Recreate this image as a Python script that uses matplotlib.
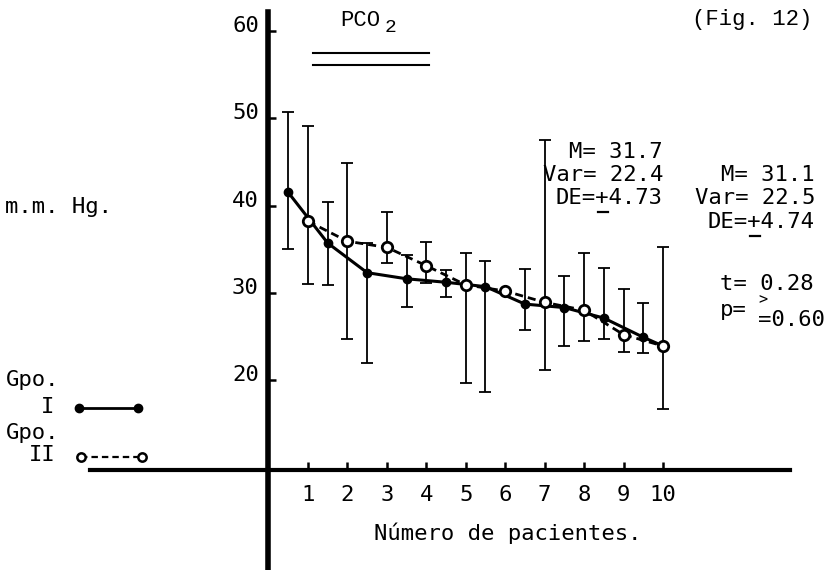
import numpy as np
import matplotlib
matplotlib.use("Agg")
import matplotlib.pyplot as plt
from matplotlib.lines import Line2D
from matplotlib.transforms import ScaledTranslation

# group I (filled, solid) - patients at half positions
x_g1 = [0.5, 1.5, 2.5, 3.5, 4.5, 5.5, 6.5, 7.5, 8.5, 9.5]
y_g1 = [41.5, 35.7, 32.3, 31.6, 31.2, 30.7, 28.7, 28.3, 27.1, 24.9]
lo_g1 = [35.0, 30.9, 21.9, 28.4, 29.5, 18.6, 25.7, 23.9, 24.7, 23.1]
hi_g1 = [50.7, 40.4, 35.7, 34.3, 32.6, 33.6, 32.7, 31.9, 32.8, 28.8]

# group II (open, dashed)
x_g2 = [1, 2, 3, 4, 5, 6, 7, 8, 9, 10]
y_g2 = [38.2, 35.9, 35.2, 33.1, 30.9, 30.2, 28.9, 28.0, 25.2, 23.9]
lo_g2 = [31.0, 24.7, 33.4, 31.1, 19.7, np.nan, 21.1, 24.5, 23.2, 16.7]
hi_g2 = [49.1, 44.9, 39.3, 35.8, 34.6, np.nan, 47.5, 34.6, 30.4, 35.2]

x_ticks = list(range(1, 11))
y_ticks = [20, 30, 40, 50, 60]

stats_g1 = ["M= 31.7", "Var= 22.4", "DE=+4.73"]
stats_g2 = ["M= 31.1", "Var= 22.5", "DE=+4.74"]

W, H = 837, 570
MONO = "DejaVu Sans Mono"
SERIF_MONO = "Liberation Mono"
FS = 16

# pixel <-> data calibration of the scanned figure
X0_PX, X_SCALE = 268.5, 39.45
Y20_PX, Y_SCALE = 380.0, 8.725


def fx(px):
    return px / W


def fy(py):
    return 1 - py / H


fig = plt.figure(figsize=(W / 100, H / 100), dpi=100)
ax = fig.add_axes([0, 0, 1, 1])
ax.set_facecolor("none")

xlim = (-X0_PX / X_SCALE, (W - X0_PX) / X_SCALE)
ylim = (20 - (H - Y20_PX) / Y_SCALE, 20 + Y20_PX / Y_SCALE)
ax.set_xlim(*xlim)
ax.set_ylim(*ylim)

x_axis_at = 20 - (470 - Y20_PX) / Y_SCALE

for s in ["top", "right"]:
    ax.spines[s].set_visible(False)
ax.spines["left"].set_position(("data", 0))
ax.spines["left"].set_bounds(ylim[0], 62.2)
ax.spines["left"].set_linewidth(4)
ax.spines["bottom"].set_position(("data", x_axis_at))
ax.spines["bottom"].set_bounds((90 - X0_PX) / X_SCALE, (790 - X0_PX) / X_SCALE)
ax.spines["bottom"].set_linewidth(3)

ax.set_xticks(x_ticks)
ax.set_xticklabels([str(t) for t in x_ticks], fontfamily=MONO, fontsize=FS)
ax.set_yticks(y_ticks)
ax.set_yticklabels([str(t) for t in y_ticks], fontfamily=MONO, fontsize=FS)
ax.tick_params(axis="x", direction="in", length=6, width=1.8, pad=11)
ax.tick_params(axis="y", direction="in", length=6, width=1.8, pad=7)
for lab in ax.get_yticklabels():
    lab.set_transform(lab.get_transform() + ScaledTranslation(0, 5 / 72, fig.dpi_scale_trans))

# error bars
y1 = np.array(y_g1)
ax.errorbar(x_g1, y1, yerr=[y1 - np.array(lo_g1), np.array(hi_g1) - y1],
            fmt="none", ecolor="black", elinewidth=1.3, capsize=4, capthick=1.3, zorder=2)
y2 = np.array(y_g2)
ok = ~np.isnan(np.array(lo_g2))
ax.errorbar(np.array(x_g2)[ok], y2[ok],
            yerr=[(y2 - np.array(lo_g2))[ok], (np.array(hi_g2) - y2)[ok]],
            fmt="none", ecolor="black", elinewidth=1.3, capsize=4, capthick=1.3, zorder=2)

# group lines
ax.plot(x_g2, y_g2, color="black", lw=2, linestyle=(0, (2.9, 1.8)), zorder=3)
ax.plot(x_g1 + [x_g2[-1]], y_g1 + [y_g2[-1]], color="black", lw=2.2, zorder=4)
ax.plot(x_g1, y_g1, "o", color="black", ms=6, zorder=5)
ax.plot(x_g2, y_g2, "o", mfc="white", mec="black", mew=2, ms=7.5, zorder=6)

fig.text(fx(508), fy(533), "Número de pacientes.", ha="center", va="center",
         fontfamily=MONO, fontsize=FS)

# title and bracket lines
fig.text(fx(340), fy(21), "PCO", ha="left", va="center", fontfamily=SERIF_MONO, fontsize=FS)
fig.text(fx(385), fy(28), "2", ha="left", va="center", fontfamily=SERIF_MONO, fontsize=FS - 2)
for py in (53, 65):
    fig.add_artist(Line2D([fx(313), fx(429)], [fy(py), fy(py)], color="black", lw=1.5))
fig.text(fx(692), fy(19), "(Fig. 12)", ha="left", va="center", fontfamily=SERIF_MONO, fontsize=FS)

fig.text(fx(5), fy(207), "m.m. Hg.", ha="left", va="center", fontfamily=MONO, fontsize=FS)

# statistics blocks (monospace, right aligned); "+" underlined to read as ±
pitch = 0.602 * FS * 100 / 72


def stats_block(lines, right_px, rows):
    for txt, py in zip(lines, rows):
        left = right_px - len(txt) * pitch
        fig.text(fx(left), fy(py), txt, ha="left", va="center", fontfamily=MONO, fontsize=FS)
        if "+" in txt:
            cx = left + (txt.index("+") + 0.5) * pitch
            fig.add_artist(Line2D([fx(cx - 5), fx(cx + 5)], [fy(py + 14), fy(py + 14)],
                                  color="black", lw=1.6))


stats_block(stats_g1, 663, (152, 175, 198))
stats_block(stats_g2, 815, (175, 198, 222))

fig.text(fx(720), fy(284), "t= 0.28", ha="left", va="center", fontfamily=MONO, fontsize=FS)
fig.text(fx(720), fy(310), "p=", ha="left", va="center", fontfamily=MONO, fontsize=FS)
fig.text(fx(758), fy(300), ">", ha="left", va="center", fontfamily=MONO, fontsize=FS - 5)
fig.text(fx(758), fy(320), "=0.60", ha="left", va="center", fontfamily=MONO, fontsize=FS)

# hand-drawn key
fig.text(fx(6), fy(380), "Gpo.", ha="left", va="center", fontfamily=MONO, fontsize=FS)
fig.text(fx(54), fy(407), "I", ha="right", va="center", fontfamily=MONO, fontsize=FS)
fig.text(fx(6), fy(433), "Gpo.", ha="left", va="center", fontfamily=MONO, fontsize=FS)
fig.text(fx(56), fy(455), "II", ha="right", va="center", fontfamily=MONO, fontsize=FS)
fig.add_artist(Line2D([fx(79), fx(138)], [fy(408), fy(408)], color="black", lw=2,
                      marker="o", ms=6))
fig.add_artist(Line2D([fx(81), fx(142)], [fy(457), fy(457)], color="black", lw=1.6,
                      linestyle=(0, (2.9, 1.8)), marker="o", mfc="white", mew=1.8, ms=6))

fig.savefig("out.png", dpi=100, facecolor="white")
